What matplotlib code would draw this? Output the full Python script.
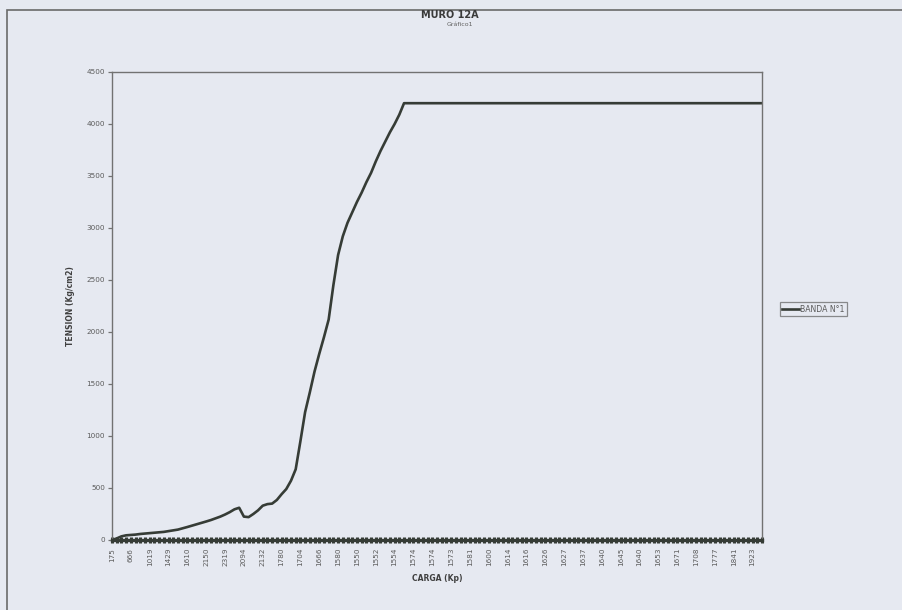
import numpy as np
import matplotlib
matplotlib.use("Agg")
import matplotlib.pyplot as plt
from matplotlib.patches import Rectangle

# Load labels shown on the category axis (every 4th category)
carga_labels = ["175", "666", "1019", "1429", "1610", "2150", "2319", "2094",
                "2132", "1780", "1704", "1666", "1580", "1550", "1552", "1554",
                "1574", "1574", "1573", "1581", "1600", "1614", "1616", "1626",
                "1627", "1637", "1640", "1645", "1640", "1653", "1671", "1708",
                "1777", "1841", "1923"]
label_step = 4

# Stress readings per load step (Kg/cm2), rising branch
tension_rise = [0, 15, 35, 45, 48, 52, 58, 62, 65, 70,
                75, 78, 85, 92, 100, 112, 125, 138, 152, 165,
                178, 192, 208, 225, 245, 268, 295, 310, 225, 220,
                250, 285, 330, 345, 350, 385, 440, 490, 570, 680,
                950, 1230, 1420, 1620, 1790, 1950, 2120, 2450, 2740, 2920,
                3050, 3150, 3250, 3340, 3440, 3530, 3640, 3740, 3830, 3920,
                4000, 4090, 4200]
# Stress readings after the maximum was reached
tension_top = [4200, 4200, 4200, 4200, 4200, 4200, 4200, 4200, 4200, 4200,
               4200, 4200, 4200, 4200, 4200, 4200, 4200, 4200, 4200, 4200,
               4200, 4200, 4200, 4200, 4200, 4200, 4200, 4200, 4200, 4200,
               4200, 4200, 4200, 4200, 4200, 4200, 4200, 4200, 4200, 4200,
               4200, 4200, 4200, 4200, 4200, 4200, 4200, 4200, 4200, 4200,
               4200, 4200, 4200, 4200, 4200, 4200, 4200, 4200, 4200, 4200,
               4200, 4200, 4200, 4200, 4200, 4200, 4200, 4200, 4200, 4200,
               4200, 4200, 4200, 4200, 4200, 4200]
tension = tension_rise + tension_top
y_ticks = [0, 500, 1000, 1500, 2000, 2500, 3000, 3500, 4000, 4500]

bg = "#e6e9f1"
line_col = "#363c36"
axis_col = "#727272"
text_col = "#5a5a5a"

W, H = 903, 610
fig = plt.figure(figsize=(W / 100, H / 100), dpi=100, facecolor=bg)

# outer chart-area frame
fig.patches.append(Rectangle((7 / W, -0.05), 1.2, 1 - 10 / H + 0.05,
                             transform=fig.transFigure, fill=False,
                             edgecolor="#6a6a6a", linewidth=1.2))

ax = fig.add_axes([112 / W, 1 - 540 / H, (762 - 112) / W, (540 - 72) / H])
ax.set_facecolor(bg)

x = np.arange(len(tension))
ax.plot(x, tension, color=line_col, linewidth=1.9, solid_joinstyle="round",
        label="BANDA N°1")

ax.set_xlim(0, len(tension) - 1)
ax.set_ylim(0, 4500)

ax.set_yticks(y_ticks)
ax.set_yticklabels([str(v) for v in y_ticks], fontsize=5.2, color=text_col)
ax.tick_params(axis="y", direction="out", length=3, width=0.9,
               color=axis_col, pad=2)

ax.set_xticks(np.arange(0, len(carga_labels) * label_step, label_step))
ax.set_xticklabels(carga_labels, rotation=90, fontsize=5.2, color=text_col)
ax.set_xticks(x, minor=True)
ax.tick_params(axis="x", which="both", direction="inout", length=5,
               width=2.2, color=line_col, pad=3)

for side in ["top", "right", "left"]:
    ax.spines[side].set_color(axis_col)
    ax.spines[side].set_linewidth(1.0)
ax.spines["bottom"].set_color(line_col)
ax.spines["bottom"].set_linewidth(2.4)

ax.set_ylabel("TENSION (Kg/cm2)", fontsize=5.5, fontweight="bold",
              color="#404040", labelpad=8)
ax.set_xlabel("CARGA (Kp)", fontsize=5.5, fontweight="bold",
              color="#404040", labelpad=6)

fig.text(450 / W, 1 - 15 / H, "MURO 12A", fontsize=7, fontweight="bold",
         color="#3a3a3a", ha="center", va="center")
fig.text(460 / W, 1 - 24 / H, "Gráfico1", fontsize=4.5,
         color="#606060", ha="center", va="center")

leg = ax.legend(loc="center left", bbox_to_anchor=(780 / W, 1 - 309 / H),
                bbox_transform=fig.transFigure, fontsize=5.6, frameon=True,
                fancybox=False, handlelength=2.2, handletextpad=0.1,
                borderpad=0.3, borderaxespad=0)
leg.get_frame().set_edgecolor("#707070")
leg.get_frame().set_facecolor(bg)
leg.get_frame().set_linewidth(0.9)
for t in leg.get_texts():
    t.set_color(text_col)

fig.savefig("out.png", dpi=100, facecolor=bg)
